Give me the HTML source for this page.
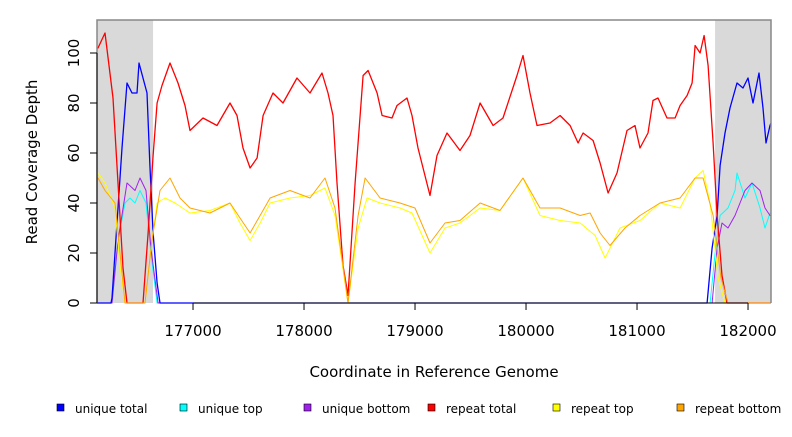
<!DOCTYPE html>
<html><head><meta charset="utf-8"><style>
html,body{margin:0;padding:0;background:#fff;}
svg text{font-family:"DejaVu Sans","Liberation Sans",sans-serif;}
</style></head><body>
<svg id="chart" width="792" height="432" viewBox="0 0 792 432" xmlns="http://www.w3.org/2000/svg">
<rect x="0" y="0" width="792" height="432" fill="#fff"/>
<g id="bg"></g>
<g id="series"></g>
<g id="axes"></g>
<g id="legend"></g>
</svg>
<script>
const xTicks=[177000,178000,179000,180000,181000,182000];
const yTicks=[0,20,40,60,80,100];
const shaded=[[176135,176640],[181703,182207]];
const seriesNames=["unique total","unique top","unique bottom","repeat total","repeat top","repeat bottom"];
const seriesColors=["#0000ff","#00ffff","#a020f0","#ff0000","#ffff00","#ffa500"];
const drawOrder=[1,2,0,3,4,5];
const uniqueTotalX=[176135,176261,176270,176315,176360,176405,176450,176495,176513,176549,176585,176612,176640,176676,176703,181631,181676,181721,181748,181793,181838,181901,181955,182000,182045,182099,182135,182162,182198,182207];
const uniqueTotalY=[0,0,2,32,62,88,84,84,96,90,84,55,28,8,0,0,22,35,55,68,78,88,86,90,80,92,78,64,71,72];
const uniqueTopX=[176135,176270,176324,176387,176432,176477,176522,176576,176621,176676,181658,181703,181748,181820,181883,181901,181973,182036,182108,182153,182198,182207];
const uniqueTopY=[0,0,25,40,42,40,45,40,20,0,0,20,35,38,45,52,42,48,38,30,36,36];
const uniqueBottomX=[176135,176270,176324,176405,176477,176522,176576,176621,176685,181676,181721,181766,181820,181883,181928,181973,182036,182108,182153,182198,182207];
const uniqueBottomY=[0,0,25,48,45,50,45,22,0,0,22,32,30,35,40,45,48,45,38,35,35];
const repeatTotalX=[176135,176144,176207,176279,176324,176369,176405,176549,176595,176640,176676,176721,176793,176865,176928,176973,177090,177216,177333,177396,177450,177514,177577,177631,177721,177811,177937,178054,178162,178216,178261,178297,178351,178396,178460,178532,178577,178658,178703,178793,178838,178928,178973,179027,179135,179198,179288,179405,179495,179586,179703,179793,179919,179973,180036,180099,180216,180307,180397,180469,180514,180604,180667,180739,180820,180910,180982,181027,181099,181144,181189,181270,181343,181388,181451,181496,181523,181568,181604,181640,181685,181721,181766,181811,182207];
const repeatTotalY=[102,102,108,82,48,14,0,0,28,59,80,87,96,88,79,69,74,71,80,75,62,54,58,75,84,80,90,84,92,84,75,48,15,3,48,91,93,84,75,74,79,82,75,62,43,59,68,61,67,80,71,74,91,99,84,71,72,75,71,64,68,65,56,44,52,69,71,62,68,81,82,74,74,79,83,88,103,100,107,95,64,35,11,0,0];
const repeatTopX=[176135,176144,176207,176297,176342,176387,176567,176630,176676,176748,176838,176973,177153,177333,177423,177514,177604,177694,177874,178054,178189,178279,178396,178487,178568,178685,178865,178973,179135,179270,179405,179586,179766,179973,180126,180307,180487,180622,180712,180847,181027,181207,181388,181523,181595,181658,181730,181793,182207];
const repeatTopY=[52,52,48,38,15,0,0,25,40,42,40,36,37,40,32,25,32,40,42,43,46,35,0,30,42,40,38,36,20,30,32,38,37,50,35,33,32,27,18,30,33,40,38,50,53,40,10,0,0];
const repeatBottomX=[176135,176144,176207,176297,176342,176387,176567,176630,176703,176793,176883,176973,177153,177333,177423,177514,177604,177694,177874,178054,178189,178279,178396,178487,178550,178685,178865,179000,179135,179270,179405,179586,179766,179973,180126,180307,180487,180577,180667,180757,180892,181027,181207,181388,181523,181595,181685,181757,181820,182207];
const repeatBottomY=[50,50,45,40,20,0,0,25,45,50,42,38,36,40,34,28,35,42,45,42,50,38,0,35,50,42,40,38,24,32,33,40,37,50,38,38,35,36,28,23,30,35,40,42,50,50,35,10,0,0];

const L=97,R=771,T=20,B=303,X0=176135,X1=182207,YMAX=113.2;
const sx=g=>L+(g-X0)/(X1-X0)*(R-L);
const sy=v=>B-v/YMAX*(B-T);
const NS="http://www.w3.org/2000/svg";
function mk(tag,attrs,parent){const e=document.createElementNS(NS,tag);for(const k in attrs)e.setAttribute(k,attrs[k]);parent.appendChild(e);return e;}
const bg=document.getElementById('bg'),sg=document.getElementById('series'),ax=document.getElementById('axes'),lg=document.getElementById('legend');
shaded.forEach((s,i)=>{const r=mk('rect',{x:sx(s[0]),y:T,width:sx(s[1])-sx(s[0]),height:B-T,fill:'#d9d9d9'},bg);

});
const allX=[uniqueTotalX,uniqueTopX,uniqueBottomX,repeatTotalX,repeatTopX,repeatBottomX];
const allY=[uniqueTotalY,uniqueTopY,uniqueBottomY,repeatTotalY,repeatTopY,repeatBottomY];
drawOrder.forEach(i=>{const xs=allX[i];const pts=xs.map((g,j)=>sx(g).toFixed(1)+','+sy(allY[i][j]).toFixed(1)).join(' ');
const p=mk('polyline',{points:pts,fill:'none',stroke:seriesColors[i],'stroke-width':(i==3||i==0)?1.3:1,'stroke-linejoin':'round'},sg);

});
const fr=mk('path',{d:`M${L},${B} L${L},${T} L${R},${T} L${R},${B}`,fill:'none',stroke:'#888','stroke-width':1.5},ax);


const ya=mk('line',{x1:L,y1:sy(0),x2:L,y2:sy(100),stroke:'#000'},ax);


yTicks.forEach(v=>{mk('line',{x1:L-7,y1:sy(v),x2:L,y2:sy(v),stroke:'#000'},ax);
const t=mk('text',{x:0,y:0,transform:`translate(${L-18},${sy(v)}) rotate(-90)`,'text-anchor':'middle','font-size':15},ax);t.textContent=v;

});
const xa=mk('line',{x1:sx(xTicks[0]),y1:B,x2:sx(xTicks[xTicks.length-1]),y2:B,stroke:'#000'},ax);


xTicks.forEach(g=>{mk('line',{x1:sx(g),y1:B,x2:sx(g),y2:B+7,stroke:'#000'},ax);
const t=mk('text',{x:sx(g),y:336,'text-anchor':'middle','font-size':15},ax);t.textContent=g;

});
const xt=mk('text',{x:434,y:377,'text-anchor':'middle','font-size':15},ax);xt.textContent='Coordinate in Reference Genome';


const yt=mk('text',{x:0,y:0,transform:'translate(37,162) rotate(-90)','text-anchor':'middle','font-size':15},ax);yt.textContent='Read Coverage Depth';


const lx=[57,180,304,428,553,677];
seriesNames.forEach((n,i)=>{const g=mk('g',{},lg);


mk('rect',{x:lx[i],y:404,width:7,height:7,fill:seriesColors[i],stroke:'#000','stroke-width':0.6},g);
const t=mk('text',{x:lx[i]+18,y:413,'font-size':12},g);t.textContent=n;});
</script>
</body></html>
